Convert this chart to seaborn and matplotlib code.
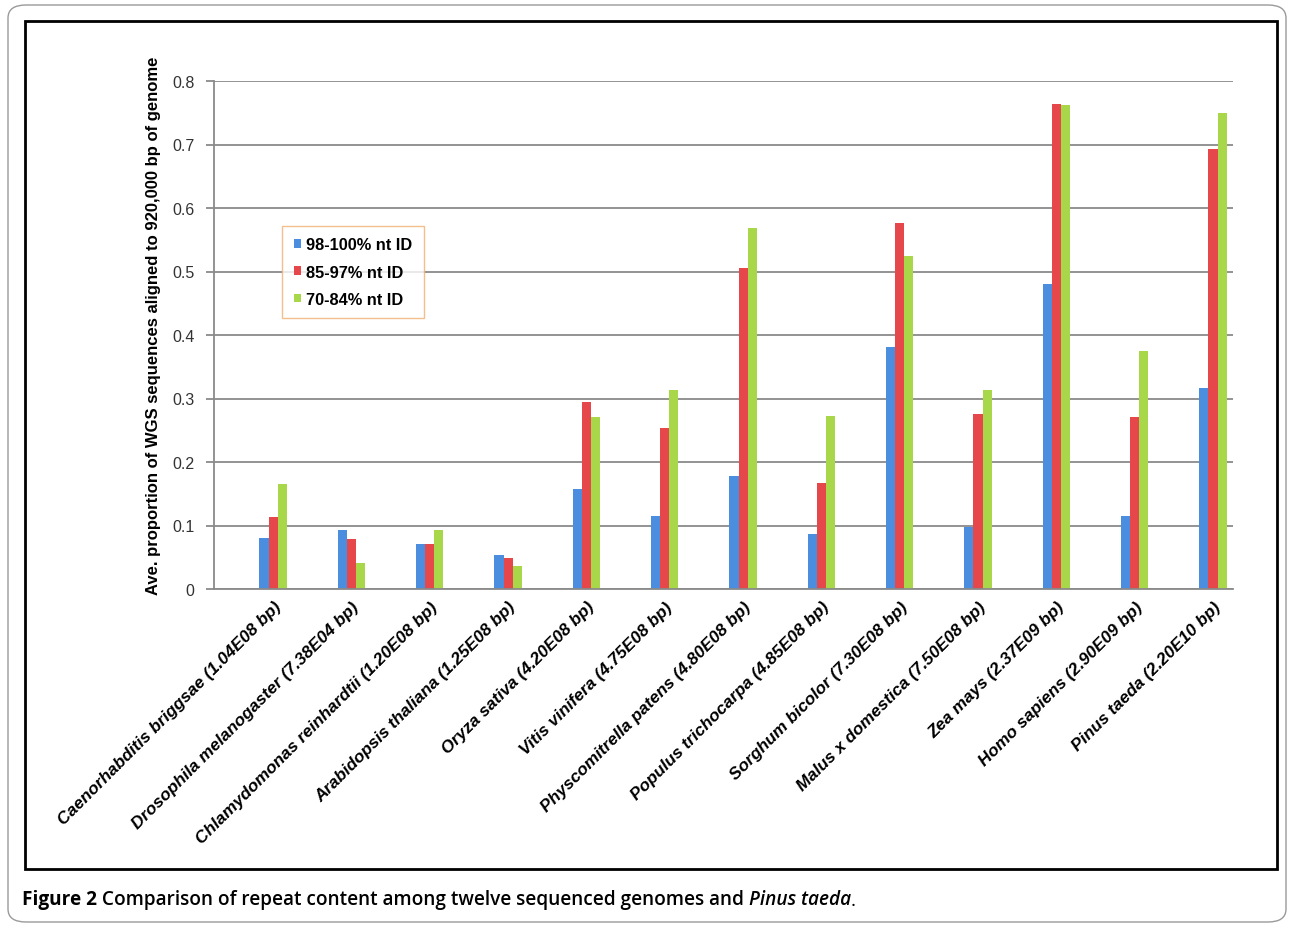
import numpy as np
import pandas as pd
import matplotlib
matplotlib.use("Agg")
import matplotlib.pyplot as plt
from matplotlib.patches import Rectangle, FancyBboxPatch
import seaborn as sns

species = [
    "Caenorhabditis briggsae (1.04E08 bp)",
    "Drosophila melanogaster (7.38E04 bp)",
    "Chlamydomonas reinhardtii (1.20E08 bp)",
    "Arabidopsis thaliana (1.25E08 bp)",
    "Oryza sativa (4.20E08 bp)",
    "Vitis vinifera (4.75E08 bp)",
    "Physcomitrella patens (4.80E08 bp)",
    "Populus trichocarpa (4.85E08 bp)",
    "Sorghum bicolor (7.30E08 bp)",
    "Malus x domestica (7.50E08 bp)",
    "Zea mays (2.37E09 bp)",
    "Homo sapiens (2.90E09 bp)",
    "Pinus taeda (2.20E10 bp)",
]
series_names = ["98-100% nt ID", "85-97% nt ID", "70-84% nt ID"]
id_98_100 = [0.081, 0.093, 0.071, 0.053, 0.157, 0.115, 0.178, 0.087, 0.381, 0.097, 0.481, 0.115, 0.317]
id_85_97 = [0.113, 0.078, 0.071, 0.049, 0.294, 0.254, 0.506, 0.167, 0.576, 0.276, 0.764, 0.271, 0.693]
id_70_84 = [0.165, 0.041, 0.093, 0.037, 0.271, 0.313, 0.569, 0.272, 0.525, 0.313, 0.762, 0.375, 0.750]
y_ticks = [0, 0.1, 0.2, 0.3, 0.4, 0.5, 0.6, 0.7, 0.8]

df = pd.DataFrame({
    "species": species * 3,
    "identity": np.repeat(series_names, len(species)),
    "value": id_98_100 + id_85_97 + id_70_84,
})

palette = {"98-100% nt ID": "#4b8ee0", "85-97% nt ID": "#e6474b", "70-84% nt ID": "#a8d84a"}

W, H = 1289, 929
fig = plt.figure(figsize=(W / 100, H / 100), dpi=100)
fig.patch.set_facecolor("white")

# outer rounded frame and inner chart frame
fig.patches.append(FancyBboxPatch((8 / W, 6 / H), 1278 / W, 917 / H,
                                  boxstyle="round,pad=0,rounding_size=0.014",
                                  transform=fig.transFigure, facecolor="none",
                                  edgecolor="#9a9a9a", linewidth=1.0))
fig.patches.append(Rectangle((25 / W, 1 - 870 / H), 1252 / W, 848 / H,
                             transform=fig.transFigure, facecolor="none",
                             edgecolor="black", linewidth=2.0))

ax = fig.add_axes([214 / W, 1 - 590 / H, 1019 / W, 508 / H])
sns.barplot(data=df, x="species", y="value", hue="identity", palette=palette,
            width=0.35, saturation=1, ax=ax, edgecolor="none")

ax.set_ylim(0, 0.8)
ax.set_xlim(-0.755, len(species) - 1 + 0.255)
ax.set_yticks(y_ticks)
ax.set_yticklabels([f"{t:g}" for t in y_ticks], fontsize=11.5, color="#333333",
                   family="Liberation Sans")
ax.yaxis.grid(True, color="#8a8a8a", linewidth=1.3)
ax.set_axisbelow(True)
for s in ["top", "right"]:
    ax.spines[s].set_visible(False)
for s in ["left", "bottom"]:
    ax.spines[s].set_color("#8a8a8a")
    ax.spines[s].set_linewidth(1.3)
ax.tick_params(axis="y", length=6, color="#8a8a8a", width=1.3, pad=8)
ax.tick_params(axis="x", length=0, pad=7)

ax.set_xticks(range(len(species)))
ax.set_xticklabels(species, rotation=45, ha="right", rotation_mode="anchor",
                   fontsize=12.4, fontweight="bold", fontstyle="italic",
                   family="Liberation Sans")
ax.set_xlabel("")
ax.set_ylabel("Ave. proportion of WGS sequences aligned to 920,000 bp of genome",
              fontsize=12, fontweight="bold", family="Liberation Sans")
ax.yaxis.set_label_coords(-0.052, 0.52)

handles, labels = ax.get_legend_handles_labels()
leg = ax.legend(handles, labels, loc="upper left", bbox_to_anchor=(0.059, 0.731),
                frameon=True, fancybox=False, handlelength=0.45, handleheight=0.45,
                handletextpad=0.3, labelspacing=0.75, borderpad=0.7,
                prop={"family": "Liberation Sans", "weight": "bold", "size": 11.8})
leg.get_frame().set_edgecolor("#f0b070")
leg.get_frame().set_linewidth(1.0)

# caption, built from consecutive pieces
cap = dict(fontsize=13.7, family="Open Sans", color="black")
t1 = fig.text(22 / W, 1 - 905 / H, "Figure 2", fontweight="bold", va="baseline", **cap)
a2 = ax.annotate(" Comparison of repeat content among twelve sequenced genomes and ",
                 xy=(1, 0), xycoords=t1, va="bottom", ha="left",
                 fontweight="semibold", annotation_clip=False, **cap)
a3 = ax.annotate("Pinus taeda", xy=(1, 0), xycoords=a2, va="bottom", ha="left",
                 fontweight="semibold", fontstyle="italic", annotation_clip=False, **cap)
a4 = ax.annotate(".", xy=(1, 0), xycoords=a3, va="bottom", ha="left",
                 annotation_clip=False, **cap)

fig.savefig("out.png", dpi=100, facecolor="white")
